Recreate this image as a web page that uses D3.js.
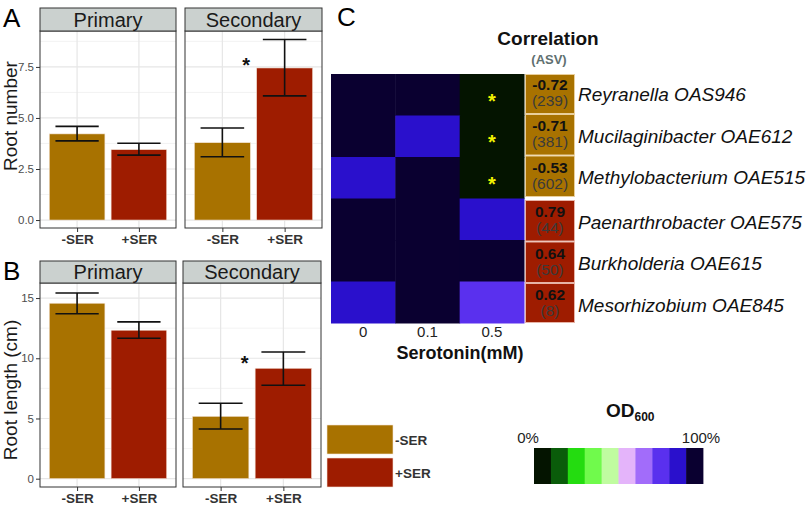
<!DOCTYPE html>
<html>
<head>
<meta charset="utf-8">
<script src="https://cdn.jsdelivr.net/npm/d3@7"></script>
<style>
  body { margin: 0; background: #fff; }
  svg { font-family: "Liberation Sans", Arial, sans-serif; }
</style>
</head>
<body>
<svg id="fig" width="810" height="510"></svg>
<script>
// ---- data ----
const treatments = ["-SER", "+SER"];
const rootTypes = ["Primary", "Secondary"];
// [Primary, Secondary] x [-SER, +SER]
const rootNumMean = [[4.22, 3.45], [3.79, 7.45]];
const rootNumLo = [[3.88, 3.18], [3.10, 6.08]];
const rootNumHi = [[4.59, 3.76], [4.51, 8.84]];
const rootLenMean = [[14.57, 12.33], [5.18, 9.17]];
const rootLenLo = [[13.70, 11.66], [4.13, 7.76]];
const rootLenHi = [[15.42, 13.02], [6.26, 10.52]];
const numTicks = [0, 2.5, 5, 7.5];
const lenTicks = [0, 5, 10, 15];

const species = ["Reyranella OAS946", "Mucilaginibacter OAE612", "Methylobacterium OAE515",
  "Paenarthrobacter OAE575", "Burkholderia OAE615", "Mesorhizobium OAE845"];
const corrValues = ["-0.72", "-0.71", "-0.53", "0.79", "0.64", "0.62"];
const asvCounts = [239, 381, 602, 44, 50, 8];
const doses = ["0", "0.1", "0.5"];
// OD600 (% of control) per species x dose
const odValues = [
  [95, 95, 5],
  [95, 85, 5],
  [85, 95, 5],
  [95, 95, 85],
  [95, 95, 95],
  [85, 95, 75]
];
const significant = [
  [false, false, true],
  [false, false, true],
  [false, false, true],
  [false, false, false],
  [false, false, false],
  [false, false, false]
];
const odColors = ["#041400", "#0a5c0a", "#24dc10", "#70fa4c", "#c0fca0",
  "#e4b4fa", "#a26cfa", "#5a30ee", "#2a10cc", "#0a0030"];

const barColors = {"-SER": "#a87200", "+SER": "#9e1c00"};

const svg = d3.select("#fig");

// ---- bar panels (A and B) ----
function facetRow(opts) {
  const g = svg.append("g");
  const y = d3.scaleLinear().domain(opts.domain).range([opts.bottom, opts.top]);

  opts.panelsX.forEach((px, p) => {
    // ggplot-like discrete positions (expand 0.6)
    const unit = (px[1] - px[0]) / 2.2;
    const pos = t => px[0] + (0.6 + treatments.indexOf(t)) * unit;

    const pg = g.append("g");
    pg.append("rect").attr("x", px[0]).attr("y", opts.top)
      .attr("width", px[1] - px[0]).attr("height", opts.bottom - opts.top)
      .attr("fill", "#fff");

    // grid
    const step = opts.ticks[1] - opts.ticks[0];
    const minor = opts.ticks.map(t => t + step / 2).concat([opts.ticks[0] - step / 2]);
    pg.selectAll(".minor").data(minor.filter(v => y(v) > opts.top && y(v) < opts.bottom)).join("line")
      .attr("x1", px[0]).attr("x2", px[1])
      .attr("y1", d => y(d)).attr("y2", d => y(d))
      .attr("stroke", "#f0f0f0").attr("stroke-width", 0.8);
    pg.selectAll(".major").data(opts.ticks).join("line")
      .attr("x1", px[0]).attr("x2", px[1])
      .attr("y1", d => y(d)).attr("y2", d => y(d))
      .attr("stroke", "#e6e6e6").attr("stroke-width", 1.2);
    pg.selectAll(".vmajor").data(treatments).join("line")
      .attr("x1", d => pos(d)).attr("x2", d => pos(d))
      .attr("y1", opts.top).attr("y2", opts.bottom)
      .attr("stroke", "#e6e6e6").attr("stroke-width", 1.2);

    // bars
    const bw = 0.9 * unit;
    pg.selectAll(".bar").data(treatments).join("rect")
      .attr("x", d => pos(d) - bw / 2)
      .attr("y", (d, i) => y(opts.mean[p][i]))
      .attr("width", bw)
      .attr("height", (d, i) => y(0) - y(opts.mean[p][i]))
      .attr("fill", d => barColors[d])
      .attr("stroke", "#f4e4d8").attr("stroke-width", 0.6);

    // error bars
    const ew = 0.7 * unit / 2;
    treatments.forEach((t, i) => {
      const cx = pos(t);
      const lo = y(opts.lo[p][i]), hi = y(opts.hi[p][i]);
      pg.append("path")
        .attr("d", `M${cx - ew},${hi}H${cx + ew}M${cx},${hi}V${lo}M${cx - ew},${lo}H${cx + ew}`)
        .attr("stroke", "#111").attr("stroke-width", 1.6).attr("fill", "none");
    });

    if (p === 1) {
      pg.append("text").attr("x", pos("+SER") - 0.48 * unit - 8.5).attr("y", y(opts.starAt) + 11)
        .attr("text-anchor", "middle").attr("font-size", 20).attr("font-weight", "bold")
        .attr("fill", "#111").text("*");
    }

    // border
    pg.append("rect").attr("x", px[0]).attr("y", opts.top)
      .attr("width", px[1] - px[0]).attr("height", opts.bottom - opts.top)
      .attr("fill", "none").attr("stroke", "#333").attr("stroke-width", 1);

    // strip
    pg.append("rect").attr("x", px[0]).attr("y", opts.stripTop)
      .attr("width", px[1] - px[0]).attr("height", opts.top - opts.stripTop)
      .attr("fill", "#cbd1cf").attr("stroke", "#333").attr("stroke-width", 1);
    pg.append("text").attr("x", (px[0] + px[1]) / 2).attr("y", opts.top - 4)
      .attr("text-anchor", "middle").attr("font-size", 20).attr("fill", "#1a1a1a")
      .text(rootTypes[p]);

    // x axis
    const xAxis = d3.axisBottom(d3.scalePoint().domain(treatments).range([pos("-SER"), pos("+SER")]))
      .tickSize(4).tickPadding(2);
    const xa = pg.append("g").attr("transform", `translate(0,${opts.bottom})`).call(xAxis);
    xa.select(".domain").remove();
    xa.selectAll(".tick line").attr("stroke", "#333");
    xa.selectAll(".tick text").attr("font-size", 13.5).attr("font-weight", "bold")
      .attr("fill", "#333").attr("font-family", "Liberation Sans, Arial, sans-serif");

    if (p === 0) {
      const yAxis = d3.axisLeft(y).tickValues(opts.ticks).tickFormat(opts.fmt).tickSize(4).tickPadding(2);
      const ya = pg.append("g").attr("transform", `translate(${px[0]},0)`).call(yAxis);
      ya.select(".domain").remove();
      ya.selectAll(".tick line").attr("stroke", "#333");
      ya.selectAll(".tick text").attr("font-size", 11.5).attr("fill", "#4d4d4d")
        .attr("font-family", "Liberation Sans, Arial, sans-serif");
    }
  });

  svg.append("text")
    .attr("transform", `translate(17,${opts.titleY}) rotate(-90)`)
    .attr("text-anchor", "middle").attr("font-size", 19).attr("fill", "#1a1a1a")
    .text(opts.title);
  svg.append("text").attr("x", 3).attr("y", opts.stripTop + 19)
    .attr("font-size", 26).attr("fill", "#000").text(opts.letter);
}

facetRow({
  letter: "A", title: "Root number", titleY: 116,
  stripTop: 8, top: 31, bottom: 228,
  panelsX: [[40, 176], [185, 322]],
  domain: [-0.39, 9.26], ticks: numTicks, fmt: d3.format(".1f"),
  mean: rootNumMean, lo: rootNumLo, hi: rootNumHi, starAt: 7.8
});
facetRow({
  letter: "B", title: "Root length (cm)", titleY: 390,
  stripTop: 261, top: 283, bottom: 487,
  panelsX: [[40, 176], [183, 321]],
  domain: [-0.69, 16.25], ticks: lenTicks, fmt: d3.format("d"),
  mean: rootLenMean, lo: rootLenLo, hi: rootLenHi, starAt: 9.94
});

// bar legend
const leg = svg.append("g");
treatments.forEach((t, i) => {
  leg.append("rect").attr("x", 327).attr("y", 425 + i * 33).attr("width", 66).attr("height", 29)
    .attr("fill", barColors[t]).attr("stroke", "#f4e4d8").attr("stroke-width", 0.6);
  leg.append("text").attr("x", 395).attr("y", 445 + i * 33)
    .attr("font-size", 13.5).attr("font-weight", "bold").attr("fill", "#333").text(t);
});

// ---- heatmap (C) ----
const hx = d3.scaleBand().domain(doses).range([331, 524]);
const hy = d3.scaleBand().domain(species).range([74, 323]);
const odColor = d3.scaleQuantize().domain([0, 100]).range(odColors);

const hm = svg.append("g");
species.forEach((s, r) => {
  doses.forEach((dz, c) => {
    hm.append("rect").attr("x", hx(dz)).attr("y", hy(s))
      .attr("width", hx.bandwidth() + 0.5).attr("height", hy.bandwidth() + 0.5)
      .attr("fill", odColor(odValues[r][c]));
    if (significant[r][c]) {
      hm.append("text").attr("x", hx(dz) + hx.bandwidth() / 2).attr("y", hy(s) + hy.bandwidth() / 2 + 13)
        .attr("text-anchor", "middle").attr("font-size", 20).attr("font-weight", "bold")
        .attr("fill", "#f2f200").text("*");
    }
  });
});

// correlation boxes
species.forEach((s, r) => {
  const neg = corrValues[r].startsWith("-");
  const off = neg ? -1.5 : 1.5;
  const y0 = hy(s) + off + (r === 0 ? 1.5 : 0);
  const h = hy.bandwidth() - (r === 0 || r === 5 ? 1.5 : 0);
  hm.append("rect").attr("x", 525.5).attr("y", y0 + 0.5).attr("width", 49).attr("height", h - 1)
    .attr("fill", neg ? "#a87200" : "#9e1c00")
    .attr("stroke", neg ? "#e9cf9c" : "#e7b3a6").attr("stroke-width", 1);
  const cy = hy(s) + hy.bandwidth() / 2 + off;
  hm.append("text").attr("x", 550).attr("y", cy - 3.5)
    .attr("text-anchor", "middle").attr("font-size", 15.5).attr("font-weight", "bold")
    .attr("fill", "#111").text(corrValues[r]);
  hm.append("text").attr("x", 550).attr("y", cy + 12.5)
    .attr("text-anchor", "middle").attr("font-size", 15.5)
    .attr("fill", "#3a3a3a").text(`(${asvCounts[r]})`);
  hm.append("text").attr("x", 578).attr("y", cy + 8)
    .attr("font-size", 19).attr("font-style", "italic").attr("fill", "#111").text(s);
});

svg.append("text").attr("x", 548).attr("y", 45).attr("text-anchor", "middle")
  .attr("font-size", 19).attr("font-weight", "bold").attr("fill", "#111").text("Correlation");
svg.append("text").attr("x", 549).attr("y", 64).attr("text-anchor", "middle")
  .attr("font-size", 13).attr("font-weight", "bold").attr("fill", "#607070").text("(ASV)");
svg.append("text").attr("x", 337).attr("y", 26).attr("font-size", 26).attr("fill", "#000").text("C");

const hxa = svg.append("g").attr("transform", "translate(0,323)")
  .call(d3.axisBottom(hx).tickSize(0).tickPadding(3));
hxa.select(".domain").remove();
hxa.selectAll(".tick text").attr("font-size", 15).attr("fill", "#222")
  .attr("font-family", "Liberation Sans, Arial, sans-serif");
svg.append("text").attr("x", 460).attr("y", 359).attr("text-anchor", "middle")
  .attr("font-size", 18).attr("font-weight", "bold").attr("fill", "#111").text("Serotonin(mM)");

// OD600 colour legend
const cb = d3.scaleBand().domain(d3.range(odColors.length)).range([534, 703]);
svg.append("g").selectAll("rect").data(odColors).join("rect")
  .attr("x", (d, i) => cb(i)).attr("y", 448)
  .attr("width", cb.bandwidth() + 0.4).attr("height", 36)
  .attr("fill", d => d);
const odT = svg.append("text").attr("x", 606).attr("y", 417)
  .attr("font-size", 19).attr("font-weight", "bold").attr("fill", "#111");
odT.append("tspan").text("OD");
odT.append("tspan").attr("font-size", 12).attr("dy", 4).text("600");
svg.append("text").attr("x", 528).attr("y", 443).attr("text-anchor", "middle")
  .attr("font-size", 15).attr("fill", "#222").text("0%");
svg.append("text").attr("x", 701).attr("y", 443).attr("text-anchor", "middle")
  .attr("font-size", 15).attr("fill", "#222").text("100%");
</script>
</body>
</html>
